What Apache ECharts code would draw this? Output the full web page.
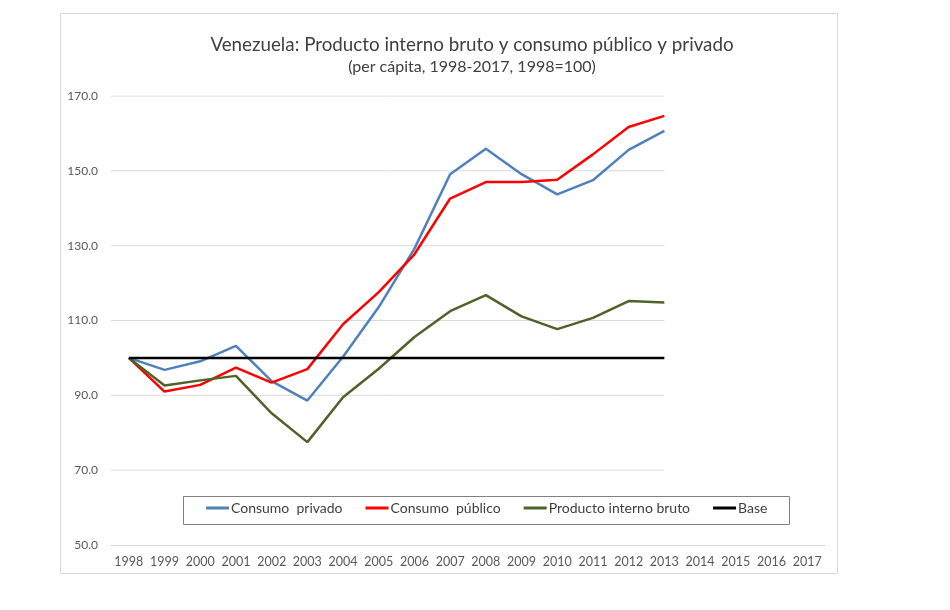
<!DOCTYPE html>
<html>
<head>
<meta charset="utf-8">
<script src="https://cdn.jsdelivr.net/npm/echarts@6/dist/echarts.min.js"></script>
<style>html,body{margin:0;padding:0;background:#fff}#c{width:950px;height:610px}</style>
</head>
<body>
<div id="c"></div>
<script>
var years = ['1998','1999','2000','2001','2002','2003','2004','2005','2006','2007','2008','2009','2010','2011','2012','2013','2014','2015','2016','2017'];
var consumoPrivado = [100, 96.8, 99.1, 103.2, 93.8, 88.6, 100.3, 113.6, 129.2, 149.1, 155.9, 149.1, 143.7, 147.5, 155.6, 160.7];
var consumoPublico = [100, 91.0, 92.8, 97.4, 93.4, 97.0, 109.0, 117.6, 127.7, 142.6, 147.0, 147.0, 147.6, 154.4, 161.7, 164.7];
var pib = [100, 92.6, 94.0, 95.2, 85.2, 77.5, 89.5, 97.1, 105.6, 112.5, 116.8, 111.1, 107.7, 110.7, 115.2, 114.8];
var base = [100, 100, 100, 100, 100, 100, 100, 100, 100, 100, 100, 100, 100, 100, 100, 100];
var yTicks = [70, 90, 110, 130, 150, 170];
var gridEndIndex = 15; // gridlines end at 2013

var font = 'Lato, "Open Sans", sans-serif';
var chart = echarts.init(document.getElementById('c'), null, {renderer: 'canvas'});

var gridSeries = yTicks.map(function (t) {
  return {
    type: 'line', xAxisIndex: 1, yAxisIndex: 0, silent: true, symbol: 'none', z: 0,
    lineStyle: {color: '#d9d9d9', width: 1},
    data: [[-0.5, t], [gridEndIndex, t]],
    animation: false
  };
});

var lineS = function (name, data, color) {
  return {
    name: name, type: 'line', data: data, symbol: 'none', z: 3,
    lineStyle: {color: color, width: 2.5}, itemStyle: {color: color}
  };
};

chart.setOption({
  animation: false,
  title: {
    text: 'Venezuela: Producto interno bruto y consumo público y privado',
    subtext: '(per cápita, 1998-2017, 1998=100)',
    left: 467, top: 30, textAlign: 'center', itemGap: 5,
    textStyle: {fontFamily: font, fontSize: 18.8, fontWeight: 'normal', color: '#404040'},
    subtextStyle: {fontFamily: font, fontSize: 16, color: '#404040'}
  },
  graphic: [
    {type: 'rect', shape: {x: 60.5, y: 13.5, width: 777, height: 560}, style: {fill: 'none', stroke: '#d9d9d9', lineWidth: 1}, z: -1, silent: true},
    {type: 'rect', shape: {x: 183.5, y: 496.5, width: 606, height: 28}, style: {fill: '#fff', stroke: '#808080', lineWidth: 1}, z: 5, silent: true}
  ],
  legend: {
    data: ['Consumo  privado', 'Consumo  público', 'Producto interno bruto', 'Base'],
    left: 206, top: 501, padding: 0, itemGap: 23, itemWidth: 23, itemHeight: 3,
    icon: 'rect', z: 10,
    textStyle: {fontFamily: font, fontSize: 14, color: '#404040', padding: [0, 0, 0, -3]}
  },
  grid: {left: 111, right: 125, top: 96, bottom: 65},
  xAxis: [{
    type: 'category', data: years, boundaryGap: true,
    axisLine: {lineStyle: {color: '#d9d9d9', width: 1}},
    axisTick: {show: false},
    axisLabel: {fontFamily: font, fontSize: 12.5, color: '#595959', margin: 10, interval: 0},
    splitLine: {show: false}
  }, {
    type: 'value', min: -0.5, max: 19.5, show: false
  }],
  yAxis: {
    type: 'value', min: 50, max: 170, interval: 20,
    axisLine: {show: false}, axisTick: {show: false},
    axisLabel: {fontFamily: font, fontSize: 12, color: '#595959', margin: 13,
      formatter: function (v) { return v.toFixed(1); }},
    splitLine: {show: false}
  },
  series: gridSeries.concat([
    lineS('Consumo  privado', consumoPrivado, '#4f81bd'),
    lineS('Consumo  público', consumoPublico, '#ff0000'),
    lineS('Producto interno bruto', pib, '#4f6228'),
    lineS('Base', base, '#000000')
  ])
});
</script>
</body>
</html>
